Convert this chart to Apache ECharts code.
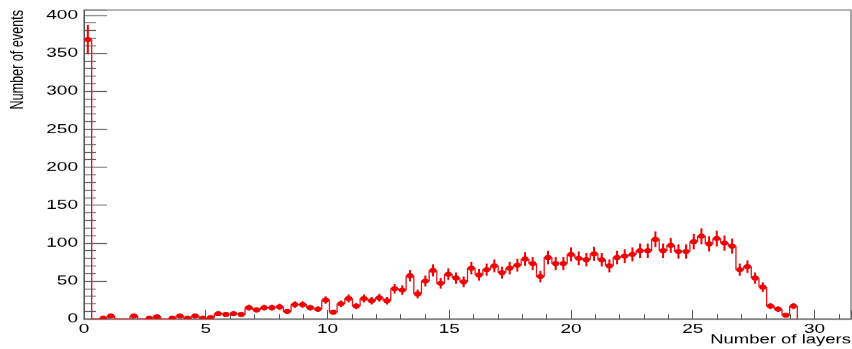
<!DOCTYPE html>
<html>
<head>
<meta charset="utf-8">
<title>Number of layers</title>
<script src="https://cdn.jsdelivr.net/npm/echarts/dist/echarts.min.js"></script>
<style>
  html, body { margin: 0; padding: 0; background: #fff; overflow: hidden; }
  #wrap { width: 852px; height: 349px; overflow: hidden; }
  /* the canvas is drawn taller and squeezed vertically, like the exported plot */
  #chart { width: 852px; height: 498px; transform: scaleY(0.7008); transform-origin: 0 0; }
</style>
</head>
<body>
<div id="wrap"><div id="chart"></div></div>
<script>
// Histogram: equal-width bins starting at 0 (bin 0 first)
const binWidth = 0.315;
const xRange = [0, 31.5];
const yRange = [0, 407];
const xTickStep = 5;
const yTickStep = 50;
const xTitle = 'Number of layers';
const yTitle = 'Number of events';

// events per bin, up to the last filled bin
const counts = [
  368, 0, 1, 4, 0, 0, 4, 0, 1, 3,
  0, 1, 4, 1, 4, 1, 2, 7, 6, 7,
  6, 15, 12, 15, 15, 16, 10, 19, 19, 15,
  13, 25, 9, 20, 27, 17, 27, 24, 28, 24,
  40, 38, 57, 33, 50, 64, 47, 59, 54, 49,
  67, 58, 65, 70, 61, 67, 71, 79, 73, 56,
  81, 73, 73, 85, 80, 78, 86, 78, 70, 81,
  83, 85, 90, 90, 105, 90, 97, 89, 89, 102,
  109, 99, 106, 100, 96, 65, 69, 54, 42, 17,
  13, 5, 17
];

const S = 0.7008;               // vertical squeeze of the drawing
const red = '#f00000';
const frameColor = '#555';
const font = '"Liberation Sans", Arial, Helvetica, sans-serif';

// step outline: one point per bin lower edge, then the drop after the last bin
const stepData = counts.map((v, i) => [xRange[0] + i * binWidth, v]);
stepData.push([xRange[0] + counts.length * binWidth, 0]);

// markers with Poisson error bars for non-empty bins
const errData = [];
counts.forEach((v, i) => {
  if (v > 0) errData.push([xRange[0] + (i + 0.5) * binWidth, v, Math.sqrt(v)]);
});

function renderErr(params, api) {
  const x = api.value(0), v = api.value(1), e = api.value(2);
  const top = api.coord([x, v + e]);
  const bot = api.coord([x, Math.max(v - e, 0)]);
  const mid = api.coord([x, v]);
  return {
    type: 'group',
    children: [
      { type: 'line', shape: { x1: top[0], y1: top[1], x2: bot[0], y2: bot[1] },
        style: { stroke: red, lineWidth: 2 } },
      { type: 'circle', shape: { cx: mid[0], cy: mid[1], r: 3.6 },
        style: { fill: red } }
    ]
  };
}

const chart = echarts.init(document.getElementById('chart'), null, { renderer: 'canvas' });
const gridTop = 10 / S, gridBottom = 30 / S;

chart.setOption({
  animation: false,
  backgroundColor: '#fff',
  grid: { left: 84, right: 1, top: gridTop, bottom: gridBottom,
          show: true, borderColor: '#777', borderWidth: 1.3, backgroundColor: 'transparent' },
  xAxis: {
    type: 'value', min: xRange[0], max: xRange[1], interval: xTickStep,
    axisLine: { show: true, onZero: false, lineStyle: { color: frameColor, width: 1.4 } },
    axisTick: { show: true, inside: true, length: 13, lineStyle: { color: frameColor, width: 1 } },
    minorTick: { show: true, splitNumber: 5, length: 7, lineStyle: { color: frameColor, width: 1 } },
    axisLabel: { showMaxLabel: false, margin: 5, fontSize: 19, color: '#000', fontFamily: font },
    splitLine: { show: false }
  },
  yAxis: {
    type: 'value', min: yRange[0], max: yRange[1], interval: yTickStep,
    axisLine: { show: true, onZero: false, lineStyle: { color: frameColor, width: 1 } },
    axisTick: { show: true, inside: true, length: 23, lineStyle: { color: frameColor, width: 1.3 } },
    minorTick: { show: true, splitNumber: 5, length: 12, lineStyle: { color: frameColor, width: 1.3 } },
    axisLabel: { showMaxLabel: false, margin: 6, fontSize: 19, color: '#000', fontFamily: font },
    splitLine: { show: false }
  },
  graphic: [
    { type: 'text', x: 18, y: 10 / S, rotation: Math.PI / 2,
      style: { text: yTitle, fontSize: 18, fontFamily: font, fill: '#000',
               textAlign: 'right', textVerticalAlign: 'middle' } },
    { type: 'text', x: 851, y: 339.5 / S,
      style: { text: xTitle, fontSize: 18.5, fontFamily: font, fill: '#000',
               textAlign: 'right', textVerticalAlign: 'middle' } }
  ],
  series: [
    { type: 'line', step: 'end', data: stepData, symbol: 'none', clip: true, z: 2,
      lineStyle: { color: '#e8141c', width: 1.3 } },
    { type: 'custom', renderItem: renderErr, data: errData, clip: true, z: 3,
      encode: { x: 0, y: 1 } }
  ]
});
</script>
</body>
</html>
